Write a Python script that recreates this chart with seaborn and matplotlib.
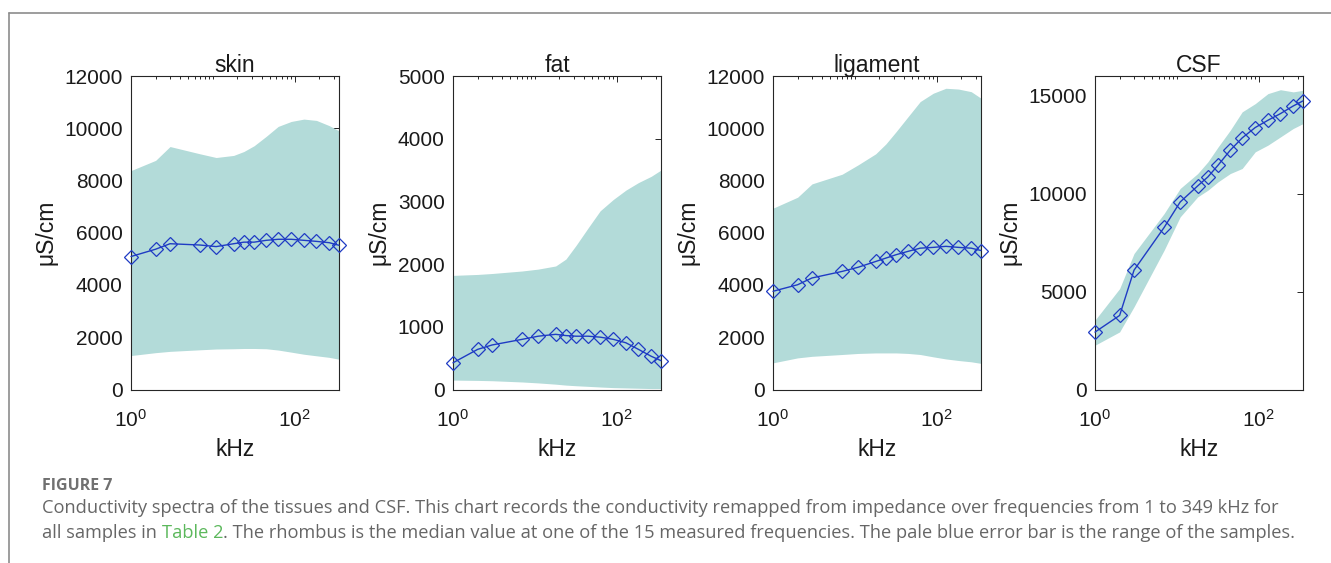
import numpy as np
import matplotlib
matplotlib.use("Agg")
import matplotlib.pyplot as plt
import matplotlib.ticker as mticker
from matplotlib.lines import Line2D
import seaborn as sns

# ---------------- data ----------------
freq_khz = [1, 2, 3, 7, 11, 18, 24, 32, 45, 63, 91, 130, 185, 265, 349]

tissues = ["skin", "fat", "ligament", "CSF"]

skin_median = [5090, 5370, 5580, 5530, 5470, 5580, 5640, 5640, 5710, 5750, 5750, 5710, 5670, 5620, 5520]
skin_upper = [8380, 8770, 9300, 9020, 8880, 8960, 9110, 9330, 9690, 10070, 10260, 10350, 10300, 10100, 9900]
skin_lower = [1300, 1410, 1460, 1520, 1550, 1560, 1570, 1570, 1560, 1510, 1430, 1350, 1290, 1230, 1160]

fat_median = [426, 640, 710, 800, 850, 880, 860, 850, 850, 835, 800, 745, 640, 530, 460]
fat_upper = [1820, 1835, 1850, 1890, 1920, 1970, 2080, 2300, 2580, 2850, 3030, 3180, 3300, 3400, 3500]
fat_lower = [150, 145, 140, 120, 105, 85, 70, 60, 50, 40, 30, 25, 20, 15, 15]

ligament_median = [3760, 4010, 4270, 4520, 4680, 4900, 5030, 5160, 5290, 5410, 5440, 5480, 5440, 5410, 5320]
ligament_upper = [6940, 7360, 7870, 8240, 8600, 9020, 9400, 9870, 10450, 11020, 11340, 11530, 11500, 11400, 11150]
ligament_lower = [1020, 1210, 1270, 1340, 1380, 1400, 1400, 1400, 1380, 1340, 1250, 1170, 1110, 1060, 1000]

csf_median = [2930, 3780, 6090, 8270, 9570, 10390, 10850, 11450, 12210, 12840, 13370, 13740, 14080, 14470, 14730]
csf_upper = [3540, 5150, 6940, 8980, 10260, 11020, 11620, 12380, 13230, 14170, 14590, 15100, 15300, 15190, 15270]
csf_lower = [2260, 2940, 4220, 7110, 8810, 9830, 10170, 10600, 11020, 11280, 12130, 12470, 12890, 13320, 13570]

medians = [skin_median, fat_median, ligament_median, csf_median]
uppers = [skin_upper, fat_upper, ligament_upper, csf_upper]
lowers = [skin_lower, fat_lower, ligament_lower, csf_lower]

y_limits = [(0, 12000), (0, 5000), (0, 12000), (0, 16000)]
y_ticks = [[0, 2000, 4000, 6000, 8000, 10000, 12000],
           [0, 1000, 2000, 3000, 4000, 5000],
           [0, 2000, 4000, 6000, 8000, 10000, 12000],
           [0, 5000, 10000, 15000]]

x_label = "kHz"
y_label = "μS/cm"
caption_head = "FIGURE 7"
caption_line1 = ("Conductivity spectra of the tissues and CSF. This chart records the conductivity "
                 "remapped from impedance over frequencies from 1 to 349 kHz for")
caption_line2a = "all samples in "
caption_link = "Table 2"
caption_line2b = (". The rhombus is the median value at one of the 15 measured frequencies. "
                  "The pale blue error bar is the range of the samples.")

# ---------------- style ----------------
sns.set_style("white")
plt.rcParams["font.family"] = ["Liberation Sans", "DejaVu Sans"]
plt.rcParams["mathtext.fontset"] = "custom"
plt.rcParams["mathtext.rm"] = "Liberation Sans"

W, H = 1331, 563
fig = plt.figure(figsize=(W / 100, H / 100), dpi=100)

fill_color = "#b3dbd9"
line_color = "#1f3bc4"
axis_color = "#262626"
text_color = "#1a1a1a"

lefts = [131, 453, 773, 1095]
right_w = 208
top_px, bot_px = 76, 389.5

for i, name in enumerate(tissues):
    ax = fig.add_axes([lefts[i] / W, 1 - bot_px / H, right_w / W, (bot_px - top_px) / H])
    ax.set_xscale("log")
    ax.fill_between(freq_khz, lowers[i], uppers[i], color=fill_color, linewidth=0, zorder=1)
    sns.lineplot(x=freq_khz, y=medians[i], ax=ax, color=line_color, linewidth=1.0,
                 marker="D", markersize=7.5, markerfacecolor="none",
                 markeredgecolor=line_color, markeredgewidth=0.9, zorder=3, clip_on=False)
    ax.set_xlim(1, 349)
    ax.set_ylim(*y_limits[i])
    ax.set_yticks(y_ticks[i])
    ax.xaxis.set_major_locator(mticker.FixedLocator([1, 100]))
    ax.xaxis.set_major_formatter(mticker.LogFormatterSciNotation())
    ax.xaxis.set_minor_locator(mticker.LogLocator(base=10, subs=np.arange(1, 10), numticks=20))
    ax.xaxis.set_minor_formatter(mticker.NullFormatter())
    ax.tick_params(axis="both", which="both", direction="in", top=True, right=True,
                   color=axis_color, width=0.7)
    ax.tick_params(axis="both", which="major", length=4, labelsize=15, labelcolor=text_color)
    ax.tick_params(axis="x", which="minor", length=2.5)
    ax.tick_params(axis="y", pad=6)
    ax.tick_params(axis="x", pad=14)
    for sp in ax.spines.values():
        sp.set_color(axis_color)
        sp.set_linewidth(0.8)
        sp.set_visible(True)
    ax.set_title(name, fontsize=16.5, pad=3, color=text_color)
    ax.set_xlabel(x_label, fontsize=16.5, labelpad=5, color=text_color)
    ax.set_ylabel(y_label, fontsize=16.5, labelpad=5, color=text_color)
    ax.set_facecolor("white")

# frame lines
fig.add_artist(Line2D([9 / W, 1.0], [1 - 13 / H, 1 - 13 / H], color="#8c8c8c", linewidth=1.2))
fig.add_artist(Line2D([9 / W, 9 / W], [1 - 13 / H, 0.0], color="#8c8c8c", linewidth=1.2))

# caption
cap_font = ["Open Sans", "DejaVu Sans"]
cap_color = "#666666"
cap_size = 13.15
fig.text(42 / W, 1 - 486 / H, caption_head, fontsize=11.5, family=cap_font, weight="bold",
         color="#707070", va="center", ha="left")
fig.text(42 / W, 1 - 508 / H, caption_line1, fontsize=cap_size, family=cap_font,
         color=cap_color, va="center", ha="left")
renderer = fig.canvas.get_renderer()
t1 = fig.text(42 / W, 1 - 533 / H, caption_line2a, fontsize=cap_size, family=cap_font,
              color=cap_color, va="center", ha="left")
bb = t1.get_window_extent(renderer)
t2 = fig.text(bb.x1 / W, 1 - 533 / H, caption_link, fontsize=cap_size, family=cap_font,
              color="#5cb85c", va="center", ha="left")
bb2 = t2.get_window_extent(renderer)
fig.text(bb2.x1 / W, 1 - 533 / H, caption_line2b, fontsize=cap_size, family=cap_font,
         color=cap_color, va="center", ha="left")

fig.savefig("out.png", dpi=100)
